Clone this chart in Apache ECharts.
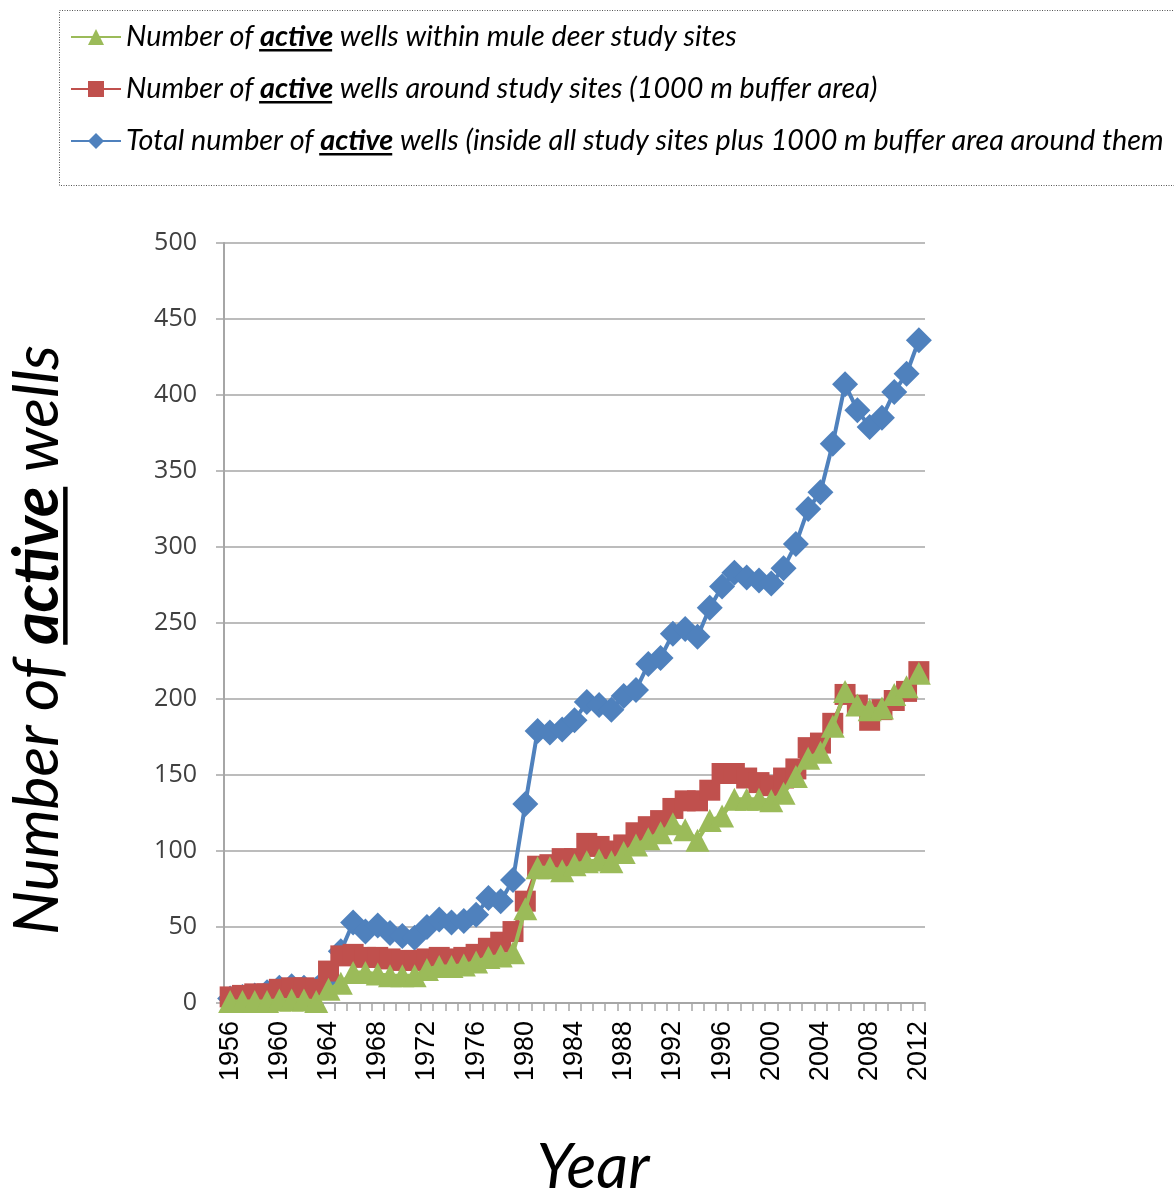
<!DOCTYPE html>
<html>
<head>
<meta charset="utf-8">
<script src="https://cdn.jsdelivr.net/npm/echarts@6/dist/echarts.min.js"></script>
<style>
html,body{margin:0;padding:0;background:#ffffff;}
#chart{width:1174px;height:1192px;}
</style>
</head>
<body>
<div id="chart"></div>
<script>
// ---------------- data ----------------
const years = ['1956','1957','1958','1959','1960','1961','1962','1963','1964','1965',
  '1966','1967','1968','1969','1970','1971','1972','1973','1974','1975',
  '1976','1977','1978','1979','1980','1981','1982','1983','1984','1985',
  '1986','1987','1988','1989','1990','1991','1992','1993','1994','1995',
  '1996','1997','1998','1999','2000','2001','2002','2003','2004','2005',
  '2006','2007','2008','2009','2010','2011','2012'];

const withinSites = [1,1,1,1,2,2,2,1,9,13,
  20,20,19,18,18,18,22,24,24,25,
  27,30,31,33,62,89,89,87,91,93,
  94,93,99,104,108,112,118,114,107,120,
  123,134,134,134,133,138,149,161,165,182,
  205,196,193,194,203,208,217];

const bufferArea = [4,5,6,6,9,10,10,9,21,31,
  32,30,30,29,28,28,29,30,29,30,
  32,36,40,47,67,90,91,95,95,105,
  103,100,104,112,116,120,128,133,133,140,
  151,151,148,145,143,148,154,168,171,184,
  203,196,186,193,199,205,218];

const totalWells = [3,4,5,7,10,11,10,9,17,34,
  53,47,51,46,44,43,50,55,53,54,
  58,69,67,81,131,179,178,180,186,198,
  196,193,202,206,223,227,243,246,241,260,
  274,283,280,278,276,286,302,325,336,368,
  407,390,379,385,402,414,436];

const yMin = 0, yMax = 500, yStep = 50;

const NAME_WITHIN = 'Number of active wells within mule deer study sites';
const NAME_BUFFER = 'Number of active wells around study sites (1000 m buffer area)';
const NAME_TOTAL  = 'Total number of active wells (inside all study sites plus 1000 m buffer area around them';
const Y_TITLE = 'Number of active wells';
const X_TITLE = 'Year';

// ---------------- style / layout ----------------
const GREEN = '#9BBB59', RED = '#C0504D', BLUE = '#4F81BD';
const GRID_L = 224, GRID_R = 925, GRID_T = 243, GRID_B = 1003;
const TITLE_FONT = 'Lato';
const LEG_LEFT = 70, LEG_TOP = 22, LEG_ICON_W = 50, LEG_ITEM_H = 20, LEG_LINE_H = 30, LEG_GAP = 22;
const LEG_TEXT_X = LEG_LEFT + LEG_ICON_W + 5;

const ctx = document.createElement('canvas').getContext('2d');
function tw(t, fs, bold) {
  ctx.font = 'italic ' + (bold ? 'bold ' : '') + fs + 'px ' + TITLE_FONT;
  return ctx.measureText(t).width;
}
function split(name) {
  const i = name.indexOf('active');
  return [name.slice(0, i), 'active', name.slice(i + 6)];
}
function fullW(name, fs) {
  const p = split(name);
  return tw(p[0], fs) + tw(p[1], fs, true) + tw(p[2], fs);
}
// fit font sizes to the reference extents
const legendFS = 25 * 611 / fullW(NAME_WITHIN, 25);
const titleFS = 58 * 590 / fullW(Y_TITLE, 58);

// title placement
const Y_TITLE_CX = 38;
const Y_TITLE_CY = 640;
const yMid = (GRID_T + GRID_B) / 2;
const yShift = Y_TITLE_CY - yMid;
const X_TITLE_CX = 593;
const xMid = (GRID_L + GRID_R) / 2;
const xShift = X_TITLE_CX - xMid;

// dotted legend frame + underlines
const graphics = [];
graphics.push({
  type: 'rect', left: 57, top: 8, silent: true,
  shape: { x: 0, y: 0, width: 1140, height: 175 },
  style: { fill: 'none', stroke: '#555', lineWidth: 1, lineDash: [1, 1.5] }
});
[NAME_WITHIN, NAME_BUFFER, NAME_TOTAL].forEach(function (nm, i) {
  const p = split(nm);
  const x0 = LEG_TEXT_X + tw(p[0], legendFS);
  const x1 = x0 + tw(p[1], legendFS, true);
  const cy = LEG_TOP + LEG_LINE_H / 2 + i * (LEG_LINE_H + LEG_GAP);
  const uy = cy + 0.46 * legendFS;
  graphics.push({
    type: 'line', silent: true,
    shape: { x1: x0, y1: uy, x2: x1, y2: uy },
    style: { stroke: '#000', lineWidth: 2.5 }
  });
});
(function () {
  const p = split(Y_TITLE);
  const W = fullW(Y_TITLE, titleFS);
  const yStart = Y_TITLE_CY + W / 2;
  const ya = yStart - tw(p[0], titleFS);
  const yb = ya - tw(p[1], titleFS, true);
  const ux = Y_TITLE_CX + 0.44 * titleFS;
  graphics.push({
    type: 'line', silent: true,
    shape: { x1: ux, y1: ya, x2: ux, y2: yb },
    style: { stroke: '#000', lineWidth: 4.5 }
  });
})();

const chart = echarts.init(document.getElementById('chart'), null, { renderer: 'canvas' });

const option = {
  animation: false,
  backgroundColor: '#ffffff',
  graphic: graphics,
  legend: {
    orient: 'vertical',
    left: LEG_LEFT,
    top: LEG_TOP,
    padding: 0,
    itemGap: LEG_GAP,
    itemWidth: LEG_ICON_W,
    itemHeight: LEG_ITEM_H,
    selectedMode: false,
    data: [NAME_WITHIN, NAME_BUFFER, NAME_TOTAL],
    formatter: function (name) { return name.replace('active', '{b|active}'); },
    textStyle: {
      fontFamily: TITLE_FONT, fontStyle: 'italic', fontSize: legendFS, color: '#000',
      lineHeight: LEG_LINE_H,
      rich: {
        b: { fontFamily: TITLE_FONT, fontStyle: 'italic', fontWeight: 'bold', fontSize: legendFS, color: '#000', lineHeight: LEG_LINE_H }
      }
    }
  },
  grid: {
    left: GRID_L, right: 1174 - GRID_R, top: GRID_T, bottom: 1192 - GRID_B,
    containLabel: false, outerBoundsMode: 'none'
  },
  xAxis: {
    type: 'category',
    data: years,
    boundaryGap: true,
    axisLine: { show: true, lineStyle: { color: '#a6a6a6', width: 2 } },
    axisTick: { show: true, interval: 0, length: 8, lineStyle: { color: '#a6a6a6', width: 1.5 } },
    axisLabel: { interval: 3, rotate: 90, fontSize: 27, fontFamily: 'Liberation Sans', color: '#000', margin: 18 },
    splitLine: { show: false },
    name: X_TITLE,
    nameLocation: 'middle',
    nameGap: 165,
    nameTextStyle: {
      fontFamily: TITLE_FONT, fontStyle: 'italic', fontSize: titleFS, color: '#000',
      align: 'center', verticalAlign: 'middle',
      padding: [0, xShift < 0 ? -2 * xShift : 0, 0, xShift > 0 ? 2 * xShift : 0]
    }
  },
  yAxis: {
    type: 'value',
    min: yMin, max: yMax, interval: yStep,
    axisLine: { show: true, lineStyle: { color: '#a6a6a6', width: 2 } },
    axisTick: { show: true, length: 8, lineStyle: { color: '#a6a6a6', width: 1.5 } },
    splitLine: { show: true, lineStyle: { color: '#a6a6a6', width: 1.5 } },
    axisLabel: { fontSize: 25, fontFamily: 'Open Sans', color: '#404040', margin: 27 },
    name: Y_TITLE.replace('active', '{b|active}'),
    nameLocation: 'middle',
    nameGap: GRID_L - Y_TITLE_CX,
    nameTextStyle: {
      fontFamily: TITLE_FONT, fontStyle: 'italic', fontSize: titleFS, color: '#000',
      align: 'center', verticalAlign: 'middle',
      padding: [0, yShift > 0 ? 2 * yShift : 0, 0, yShift < 0 ? -2 * yShift : 0],
      rich: { b: { fontFamily: TITLE_FONT, fontStyle: 'italic', fontWeight: 'bold', fontSize: titleFS, color: '#000' } }
    }
  },
  series: [
    {
      name: NAME_TOTAL, type: 'line', data: totalWells,
      symbol: 'diamond', symbolSize: 26, showAllSymbol: true,
      lineStyle: { color: BLUE, width: 4 }, itemStyle: { color: BLUE }, z: 2
    },
    {
      name: NAME_BUFFER, type: 'line', data: bufferArea,
      symbol: 'rect', symbolSize: 21, showAllSymbol: true,
      lineStyle: { color: RED, width: 4 }, itemStyle: { color: RED }, z: 3
    },
    {
      name: NAME_WITHIN, type: 'line', data: withinSites,
      symbol: 'triangle', symbolSize: [24, 23], showAllSymbol: true,
      lineStyle: { color: GREEN, width: 4 }, itemStyle: { color: GREEN }, z: 4
    }
  ]
};
chart.setOption(option);
</script>
</body>
</html>
